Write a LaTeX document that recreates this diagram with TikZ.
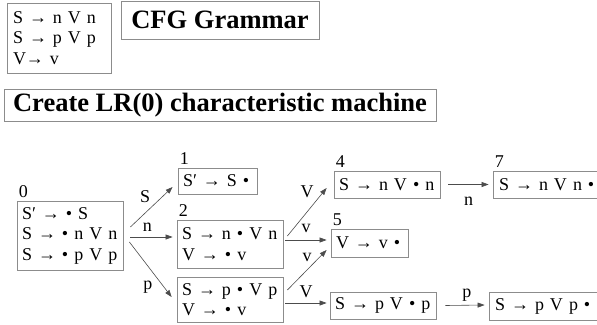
\documentclass[tikz,border=0pt]{standalone}
\usepackage{fontspec}
\setmainfont{Liberation Serif}
\usetikzlibrary{arrows.meta}
\newcommand\itemfont{\fontsize{18}{20.5}\selectfont}
\newcommand\titlefont{\fontsize{26.5}{30}\selectfont\bfseries}

\begin{document}
\begin{tikzpicture}[
    x=1pt, y=-1pt,
    box/.style={draw=black!45, line width=0.8pt, inner xsep=5pt, inner ysep=0pt,
      align=left, font=\itemfont},
    titlebox/.style={draw=black!45, line width=0.8pt, inner sep=0pt, font=\titlefont},
    num/.style={font=\itemfont, inner sep=0pt, anchor=south west, xshift=2pt, yshift=3pt},
    lbl/.style={font=\itemfont, inner sep=0pt},
    goto/.style={-{Triangle[length=7pt,width=5pt]}, draw=black!70, line width=0.6pt}
  ]
    \useasboundingbox (0,0) rectangle (597,324);

    % grammar and titles
    \node[box, text width=92pt, inner xsep=6pt, minimum height=70pt] (gram) at (59,38)
      {S → n V n\\S → p V p\\V→ v};
    \node[titlebox, minimum width=198pt, minimum height=38pt] (cfg) at (220,20) {CFG Grammar};
    \node[titlebox, minimum width=432pt, minimum height=32pt] (lr) at (220,105)
      {Create LR(0) characteristic machine};

    % states
    \node[box, text width=96pt, minimum height=69pt] (s0) at (70,235.5)
      {S′ → • S\\S → • n V n\\S → • p V p};
    \node[box, text width=69pt, minimum height=26pt] (s1) at (217.5,181) {S′ → S •};
    \node[box, text width=96pt, minimum height=48pt] (s2) at (230,244)
      {S → n • V n\\V → • v};
    \node[box, text width=96pt, minimum height=45pt] (s3) at (230,299.5)
      {S → p • V p\\V → • v};
    \node[box, text width=96pt, minimum height=27pt] (s4) at (387,184.5) {S → n V • n};
    \node[box, text width=67pt, minimum height=28pt] (s5) at (369.5,243) {V → v •};
    \node[box, text width=96pt, minimum height=27pt] (s6) at (383,305.5) {S → p V • p};
    \node[box, text width=100pt, inner xsep=6pt, minimum height=27pt] (s7) at (549,184.5) {S → n V n •};
    \node[box, text width=100pt, inner xsep=6pt, minimum height=28pt] (s8) at (545,306) {S → p V p •};

    % state numbers
    \node[num] (n0) at (s0.north west) {0};
    \node[num] (n1) at (s1.north west) {1};
    \node[num] (n2) at (s2.north west) {2};
    \node[num] (n4) at (s4.north west) {4};
    \node[num] (n5) at (s5.north west) {5};
    \node[num] (n7) at (s7.north west) {7};

    % transitions
    \draw[goto] ([shift={(7pt,8.5pt)}]s0.east) -- node[lbl, pos=0.35, yshift=16pt] (t01) {S} ([shift={(-5pt,-6pt)}]s1.west);
    \draw[goto] ([shift={(7pt,-1.5pt)}]s0.east) -- node[lbl, pos=0.4, yshift=10pt] (t02) {n} ([shift={(-4pt,7pt)}]s2.west);
    \draw[goto] ([shift={(6pt,-6.5pt)}]s0.east) -- node[lbl, pos=0.44, yshift=-21pt] (t03) {p} ([shift={(-5pt,2.5pt)}]s3.west);
    \draw[goto] ([shift={(4pt,8pt)}]s2.east) -- node[lbl, pos=0.5, yshift=20pt] (t24) {V} ([shift={(-7pt,-3.5pt)}]s4.west);
    \draw[goto] ([shift={(2pt,4pt)}]s2.east) -- node[lbl, pos=0.5, yshift=12pt] (t25) {v} ([shift={(-4pt,3pt)}]s5.west);
    \draw[goto] ([shift={(4pt,9.5pt)}]s3.east) -- node[lbl, pos=0.5, yshift=13pt] (t35) {v} ([shift={(-4pt,-7pt)}]s5.west);
    \draw[goto] ([shift={(2pt,-3.5pt)}]s3.east) -- node[lbl, pos=0.5, yshift=11pt] (t36) {V} ([shift={(-3pt,2.5pt)}]s6.west);
    \draw[goto] ([xshift=8pt]s4.east) -- node[lbl, pos=0.5, yshift=-17pt] (t47) {n} ([xshift=-4pt]s7.west);
    \draw[goto] ([xshift=9pt]s6.east) -- node[lbl, pos=0.55, yshift=10pt] (t68) {p} ([shift={(-4pt,1pt)}]s8.west);
\end{tikzpicture}
\end{document}
